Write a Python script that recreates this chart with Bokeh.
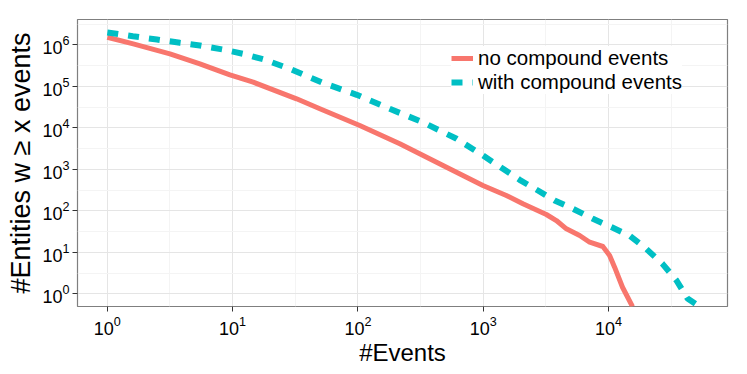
from bokeh.plotting import figure
from bokeh.models import FixedTicker, Legend, LegendItem
from bokeh.embed import file_html
from bokeh.resources import INLINE

# ---- data ----
red_x = [1, 1.61, 3.16, 5.48, 9.52, 14.6, 32.4, 49.7, 103.5, 216, 478, 995, 1531, 2075,
         3192, 3837, 4613, 5888, 7079, 9016, 10210, 11190, 12940, 15560]
red_y = [1.52e6, 1.057e6, 6.07e5, 3.48e5, 1.89e5, 1.256e5, 5.0e4, 2.87e4, 1.136e4, 4113,
         1236, 407, 234, 148, 81.5, 58.3, 36.8, 25.4, 17.5, 13.8, 8.4, 4.38, 1.44, 0.49]

cyan_x = [1, 1.60, 2.49, 3.80, 5.48, 8.37, 12.08, 18.11, 28.6, 52.5, 97.9, 179.5, 329,
          614, 995, 1439, 1954, 2735, 3715, 5200, 7516, 10840, 14720, 19360, 26980,
          34910, 42760, 53330]
cyan_y = [1.98e6, 1.61e6, 1.343e6, 1.117e6, 9.64e5, 7.71e5, 6.07e5, 4.36e5, 2.64e5,
          1.213e5, 6.24e4, 2.87e4, 1.365e4, 5430, 2153, 1028, 558, 308, 177, 112, 64.1,
          38.9, 25.4, 13.3, 5.28, 2.09, 0.77, 0.49]

series_labels = ["no compound events", "with compound events"]
x_ticks = [1, 10, 100, 1000, 10000]
y_ticks = [1, 10, 100, 1000, 10000, 100000, 1000000]
x_minor = [10 ** 0.5, 10 ** 1.5, 10 ** 2.5, 10 ** 3.5, 10 ** 4.5]
y_minor = [10 ** 0.5, 10 ** 1.5, 10 ** 2.5, 10 ** 3.5, 10 ** 4.5, 10 ** 5.5, 10 ** 6.5]
x_title = "#Events"
y_title = "#Entities w \u2265 x events"

FONT = "Liberation Sans"

p = figure(frame_width=650, frame_height=287, x_axis_type="log", y_axis_type="log",
           x_range=(10 ** -0.238, 10 ** 4.95), y_range=(10 ** -0.306, 10 ** 6.61),
           output_backend="svg", toolbar_location=None,
           min_border_left=77, min_border_right=4, min_border_top=19,
           min_border_bottom=50)

p.background_fill_color = "white"
p.border_fill_color = "white"
p.outline_line_color = "#7f7f7f"
p.outline_line_width = 1.2

xt = FixedTicker(ticks=x_ticks, minor_ticks=x_minor)
yt = FixedTicker(ticks=y_ticks, minor_ticks=y_minor)
p.xaxis.ticker = xt
p.yaxis.ticker = yt
p.xgrid.ticker = xt
p.ygrid.ticker = yt
for g in (p.xgrid, p.ygrid):
    g.grid_line_color = "#E5E5E5"
    g.grid_line_width = 1
    g.minor_grid_line_color = "#F4F4F4"
    g.minor_grid_line_width = 1

for ax in (p.xaxis, p.yaxis):
    ax.axis_line_color = None
    ax.major_tick_line_color = "#333333"
    ax.major_tick_out = 5
    ax.major_tick_in = 0
    ax.minor_tick_line_color = None
    ax.major_label_text_font = FONT
    ax.major_label_text_font_size = "18px"
    ax.major_label_text_color = "black"
    ax.axis_label_text_font = FONT
    ax.axis_label_text_font_style = "normal"
    ax.axis_label_text_color = "black"

p.xaxis.axis_label_text_font_size = "24px"
p.yaxis.axis_label_text_font_size = "27px"
p.xaxis.axis_label = x_title
p.yaxis.axis_label = y_title
p.xaxis.major_label_standoff = 4
p.yaxis.major_label_standoff = 3
p.xaxis.axis_label_standoff = 1
p.yaxis.axis_label_standoff = 3

r1 = p.line(red_x, red_y, line_color="#F8766D", line_width=5, line_join="round")
r2 = p.line(cyan_x, cyan_y, line_color="#00BFC4", line_width=6, line_dash="11 10")

legend = Legend(items=[LegendItem(label=series_labels[0], renderers=[r1]),
                       LegendItem(label=series_labels[1], renderers=[r2])],
                location=(374, 212))
legend.label_text_font = FONT
legend.label_text_font_size = "20.5px"
legend.label_text_color = "black"
legend.glyph_width = 22
legend.glyph_height = 22
legend.spacing = 0
legend.padding = 5
legend.margin = 0
legend.label_standoff = 5
legend.label_height = 22
legend.border_line_color = None
legend.background_fill_color = "white"
legend.background_fill_alpha = 1
p.add_layout(legend, "center")

open("out.html", "w").write(file_html(p, INLINE))
